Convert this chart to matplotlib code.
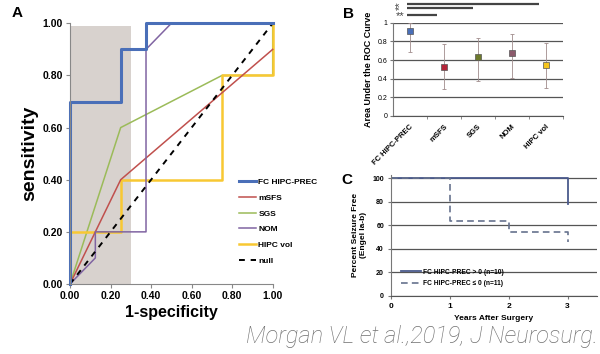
import matplotlib.pyplot as plt

plt.rcParams['font.family'] = ['Liberation Sans', 'DejaVu Sans']

# Panel A: ROC curves (1-specificity, sensitivity)
fc_x = [0, 0, 0.25, 0.25, 0.375, 0.375, 1.0]
fc_y = [0, 0.7, 0.7, 0.9, 0.9, 1.0, 1.0]
msfs_x = [0, 0.125, 0.25, 1.0]
msfs_y = [0, 0.2, 0.4, 0.9]
sgs_x = [0, 0.25, 0.75, 1.0, 1.0]
sgs_y = [0, 0.6, 0.8, 0.8, 1.0]
nom_x = [0, 0.125, 0.125, 0.375, 0.375, 0.5, 1.0]
nom_y = [0, 0.1, 0.2, 0.2, 0.9, 1.0, 1.0]
vol_x = [0, 0, 0.25, 0.25, 0.75, 0.75, 1.0, 1.0]
vol_y = [0, 0.2, 0.2, 0.4, 0.4, 0.8, 0.8, 1.0]
null_x = [0, 1]
null_y = [0, 1]
shade_x = 0.3
shade_top = 0.99

# Panel B: AUC with error bars
auc_names = ['FC HIPC-PREC', 'mSFS', 'SGS', 'NOM', 'HIPC vol']
auc_vals = [0.91, 0.53, 0.63, 0.68, 0.55]
auc_low = [0.69, 0.29, 0.37, 0.41, 0.30]
auc_high = [1.00, 0.77, 0.84, 0.88, 0.78]
auc_colors = ['#4a6fb8', '#b5263a', '#6e7a2c', '#8c5a6c', '#f5c41c']
sig_ends = [3.8, 1.85, 0.8]
sig_levels = [1.20, 1.155, 1.08]

# Panel C: Kaplan-Meier
km_years = [0, 1, 2, 3]
km_pos = [100, 100, 100, 77.8]
km_neg = [100, 63.6, 54.5, 45.5]

fig = plt.figure(figsize=(6, 3.54), dpi=100)

# ---------- A ----------
axA = fig.add_axes([70/600, 1-284/354, (272.7-70)/600, (284-23.3)/354])
axA.fill_between([0, shade_x], 0, shade_top, color='#d8d2ce', lw=0)
axA.plot(sgs_x, sgs_y, color='#9bbb59', lw=1.1, label='SGS', clip_on=False)
axA.plot(vol_x, vol_y, color='#f8c832', lw=1.8, label='HIPC vol', clip_on=False)
axA.plot(msfs_x, msfs_y, color='#c0504d', lw=1.1, label='mSFS', clip_on=False)
axA.plot(nom_x, nom_y, color='#8064a2', lw=1.1, label='NOM', clip_on=False)
axA.plot(null_x, null_y, color='black', lw=1.4, ls=(0, (3, 3)), label='null')
axA.plot(fc_x, fc_y, color='#4a6fb8', lw=2.2, label='FC HIPC-PREC', clip_on=False)
axA.set_xlim(0, 1)
axA.set_ylim(0, 1)
ticks = [0, 0.2, 0.4, 0.6, 0.8, 1.0]
axA.set_xticks(ticks)
axA.set_yticks(ticks)
axA.set_xticklabels(['%.2f' % t for t in ticks], fontweight='bold', fontsize=7.5)
axA.set_yticklabels(['%.2f' % t for t in ticks], fontweight='bold', fontsize=7.5)
for s in ['top', 'right']:
    axA.spines[s].set_visible(False)
for s in ['left', 'bottom']:
    axA.spines[s].set_color('#888888')
axA.tick_params(length=3, color='#888888', pad=2)
axA.set_xlabel('1-specificity', fontweight='bold', fontsize=11.5, labelpad=3)
axA.set_ylabel('sensitivity', fontweight='bold', fontsize=14, labelpad=3)
h, l = axA.get_legend_handles_labels()
order = ['FC HIPC-PREC', 'mSFS', 'SGS', 'NOM', 'HIPC vol', 'null']
hh = [h[l.index(o)] for o in order]
axA.legend(hh, order, loc='upper left', bbox_to_anchor=(236/600, 1-175/354),
           bbox_transform=fig.transFigure, frameon=False,
           prop={'weight': 'bold', 'size': 6}, handlelength=2.0,
           labelspacing=0.95, handletextpad=0.3, borderaxespad=0)
fig.text(12/600, 1-13/354, 'A', fontsize=11, fontweight='bold', va='center')

# ---------- B ----------
axB = fig.add_axes([393/600, 1-116/354, 170/600, (116-22.7)/354])
xs = list(range(len(auc_names)))
for i in xs:
    axB.errorbar(i, auc_vals[i],
                 yerr=[[auc_vals[i]-auc_low[i]], [auc_high[i]-auc_vals[i]]],
                 fmt='none', ecolor='#a08c8c', elinewidth=0.6, capsize=1.2,
                 capthick=0.6, zorder=3)
    axB.plot(i, auc_vals[i], marker='s', ms=5, color=auc_colors[i],
             mec='#555555', mew=0.5, zorder=4)
axB.set_xlim(-0.5, 4.5)
axB.set_ylim(0, 1)
axB.set_yticks([0, 0.2, 0.4, 0.6, 0.8, 1])
axB.set_yticklabels(['0', '0.2', '0.4', '0.6', '0.8', '1'], fontsize=5)
axB.yaxis.grid(True, color='#555555', lw=0.9)
axB.set_axisbelow(True)
axB.set_xticks(xs)
axB.set_xticklabels(auc_names, rotation=45, ha='right', rotation_mode='anchor',
                    fontsize=5.5, fontweight='bold')
axB.set_xticks([i + 0.5 for i in xs], minor=True)
axB.tick_params(axis='x', which='major', length=0, pad=5)
axB.tick_params(axis='x', which='minor', length=2, color='#777777')
axB.tick_params(axis='y', length=2, color='#777777', pad=2)
for s in ['top', 'right']:
    axB.spines[s].set_visible(False)
axB.spines['left'].set_color('#777777')
axB.spines['bottom'].set_color('#555555')
axB.set_ylabel('Area Under the ROC Curve', fontsize=6.5, fontweight='bold', labelpad=3)
for end, lev in zip(sig_ends, sig_levels):
    axB.plot([-0.1, end], [lev, lev], color='#444444', lw=1.6, clip_on=False,
             solid_capstyle='butt')
axB.text(-0.3, 1.07, '**', fontsize=8, ha='center', va='center', color='#444444')
axB.text(-0.3, 1.18, '**', fontsize=8, ha='center', va='center', rotation=90,
         color='#444444')
fig.text(343/600, 1-14/354, 'B', fontsize=11, fontweight='bold', va='center')

# ---------- C ----------
axC = fig.add_axes([391/600, 1-295.7/354, (597-391)/600, (295.7-174.8)/354])
axC.step(km_years, km_pos, where='post', color='#4a5a8c', lw=1.3,
         label='FC HIPC-PREC > 0 (n=10)')
axC.step(km_years, km_neg, where='post', color='#66728e', lw=1.2,
         ls=(0, (4, 2.5)), label='FC HIPC-PREC \u2264 0 (n=11)')
axC.set_xlim(0, 3.5)
axC.set_ylim(0, 103)
axC.set_yticks([0, 20, 40, 60, 80, 100])
axC.set_xticks([0, 1, 2, 3])
axC.yaxis.grid(True, color='#555555', lw=0.9)
axC.set_axisbelow(True)
for s in ['top', 'right']:
    axC.spines[s].set_visible(False)
axC.spines['left'].set_color('#777777')
axC.spines['bottom'].set_color('#555555')
axC.tick_params(axis='y', length=2, color='#777777', pad=3, labelsize=5)
axC.tick_params(axis='x', length=2, color='#777777', pad=3, labelsize=6)
for t in axC.get_xticklabels() + axC.get_yticklabels():
    t.set_fontweight('bold')
axC.set_ylabel('Percent Seizure Free\n(Engel Ia-b)', fontsize=6, fontweight='bold',
               labelpad=4, linespacing=1.1)
axC.set_xlabel('Years After Surgery', fontsize=6, fontweight='bold', labelpad=4)
axC.legend(loc='lower left', bbox_to_anchor=(0.02, 0.02), frameon=False,
           prop={'weight': 'bold', 'size': 4.8}, handlelength=3,
           labelspacing=0.7, handletextpad=0.3)
fig.text(341/600, 1-180/354, 'C', fontsize=11, fontweight='bold', va='center')

fig.text(598/600, 1-337/354, 'Morgan VL et al.,2019, J Neurosurg.',
         family=['Roboto', 'DejaVu Sans'], fontweight='light', style='italic',
         fontsize=17, color='#707070', ha='right', va='center')

fig.savefig('out.png', dpi=100)
